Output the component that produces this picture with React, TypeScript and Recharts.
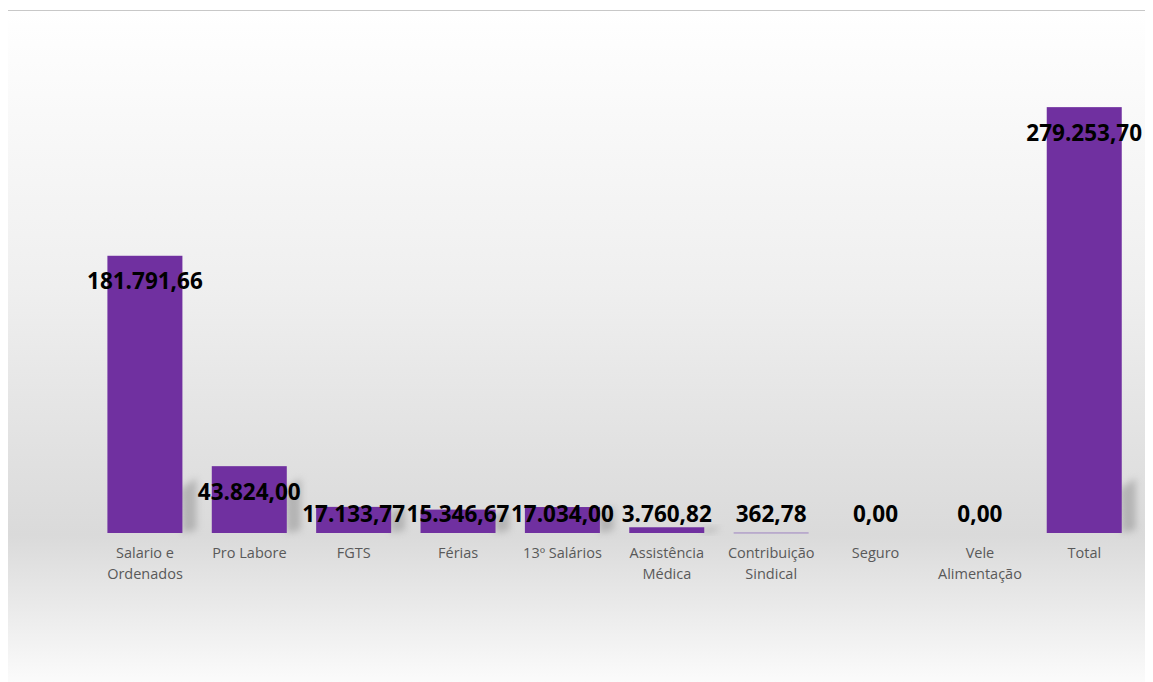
import React from 'react';
import { BarChart, Bar, XAxis, YAxis, LabelList } from 'recharts';

const categories = [
  'Salario e|Ordenados',
  'Pro Labore',
  'FGTS',
  'Férias',
  '13º Salários',
  'Assistência|Médica',
  'Contribuição|Sindical',
  'Seguro',
  'Vele|Alimentação',
  'Total',
];
const values = [181791.66, 43824.0, 17133.77, 15346.67, 17034.0, 3760.82, 362.78, 0, 0, 279253.7];
const yTicks = [0, 50000, 100000, 150000, 200000, 250000, 300000];

const data = categories.map((name, i) => ({ name, value: values[i] }));

const BAR = '#7030A0';
const BASE_Y = 522;

const fmt = (v: number) => {
  const [int, dec] = v.toFixed(2).split('.');
  return int.replace(/\B(?=(\d{3})+(?!\d))/g, '.') + ',' + dec;
};

const BarWithShadow = (props: any) => {
  const { x, y, width, height, index } = props;
  if (!width || !(height > 0)) return null;
  const h = height;
  const sh = Math.min(h, 55);
  const right = x + width;
  const bottom = y + h;
  const id = `sh${index}`;
  return (
    <g>
      {sh > 4 && (
        <>
          <defs>
            <filter id={id} x="-50%" y="-50%" width="200%" height="200%">
              <feGaussianBlur stdDeviation="3.5" />
            </filter>
          </defs>
          <polygon
            points={`${right - 2},${bottom - sh * 0.8} ${right + 14},${bottom - sh} ${right + 14},${bottom - 3} ${right},${bottom}`}
            fill="#8c8c8c"
            opacity={0.5}
            filter={`url(#${id})`}
          />
        </>
      )}
      <rect x={x} y={y} width={width} height={Math.max(h, 1)} fill={h < 2 ? '#9e83c0' : BAR} />
    </g>
  );
};

const ValueLabel = (props: any) => {
  const { x, y, width, value } = props;
  const cy = Math.min(y + 25, BASE_Y - 20);
  return (
    <text
      x={x + width / 2}
      y={cy}
      textAnchor="middle"
      dominantBaseline="central"
      fontFamily="'Open Sans', sans-serif"
      fontWeight={700}
      fontSize={22.5}
      fill="#000"
    >
      {fmt(value)}
    </text>
  );
};

const CategoryTick = (props: any) => {
  const { x, y, payload } = props;
  const lines = String(payload.value).split('|');
  return (
    <text
      x={x}
      y={y}
      textAnchor="middle"
      fontFamily="'Open Sans', sans-serif"
      fontSize={14.5}
      fill="#595959"
    >
      {lines.map((l, i) => (
        <tspan key={i} x={x} dy={i === 0 ? 15 : 21}>
          {l}
        </tspan>
      ))}
    </text>
  );
};

export default function App() {
  return (
    <div
      style={{
        marginLeft: -1,
        marginTop: 2,
        width: 1160,
        height: 690,
        border: '1px solid #c8c8c8',
        background:
          'linear-gradient(to bottom, #ffffff 0%, #fafafa 12%, #efefef 40%, #dadada 76%, #fcfcfc 98%)',
      }}
    >
      <BarChart
        width={1146}
        height={672}
        data={data}
        margin={{ top: 64.5, right: 17.5, left: 84.8, bottom: 90 }}
        barCategoryGap="14%"
      >
        <XAxis
          dataKey="name"
          tick={<CategoryTick />}
          tickLine={false}
          axisLine={false}
          interval={0}
          height={60}
          tickMargin={4}
        />
        <YAxis hide domain={[0, 300000]} ticks={yTicks} />
        <Bar dataKey="value" shape={<BarWithShadow />} isAnimationActive={false}>
          <LabelList dataKey="value" content={<ValueLabel />} />
        </Bar>
      </BarChart>
    </div>
  );
}
